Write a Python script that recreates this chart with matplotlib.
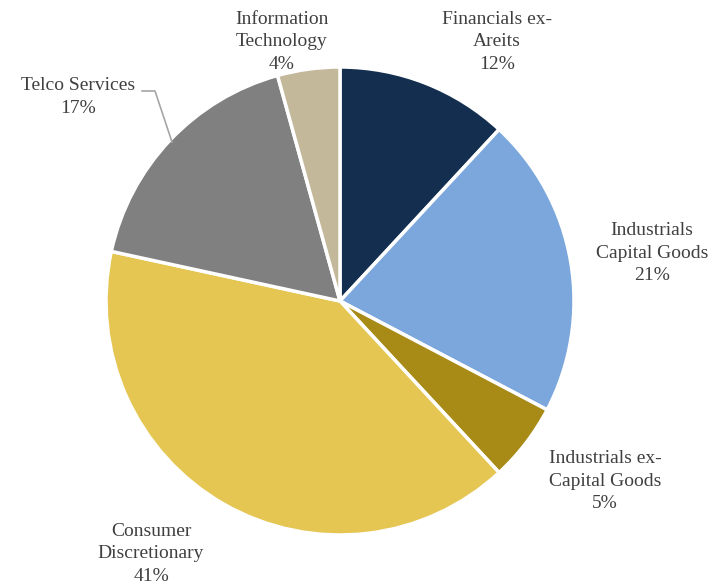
import matplotlib.pyplot as plt

# sectors, clockwise from 12 o'clock
sectors = ['Financials ex-\nAreits', 'Industrials\nCapital Goods', 'Industrials ex-\nCapital Goods',
           'Consumer\nDiscretionary', 'Telco Services', 'Information\nTechnology']
weights = [11.9, 20.8, 5.4, 40.3, 17.3, 4.3]   # slice sizes as drawn
shown_pct = [12, 21, 5, 41, 17, 4]            # rounded figures printed on the chart
colors = ['#142e4f', '#7ba7dc', '#a88a17', '#e5c653', '#808080', '#c4b89b']

# label centres in pixels (x, y from top)
label_pos = [(497, 42), (652, 253), (605, 481), (151, 554), (78, 97), (282, 42)]

W, H = 726, 587
plt.rcParams['font.family'] = ['Liberation Serif', 'DejaVu Serif']

fig = plt.figure(figsize=(W / 100, H / 100), dpi=100)
ax = fig.add_axes([0, 0, 1, 1])

cx, cy, r = 340, 301, 234
ax.pie(weights, colors=colors, startangle=90, counterclock=False,
       center=(cx, H - cy), radius=r, frame=True,
       wedgeprops=dict(edgecolor='white', linewidth=2.5))
ax.set_xlim(0, W)
ax.set_ylim(0, H)
ax.set_aspect('equal')
ax.axis('off')

for name, p, (px, py) in zip(sectors, shown_pct, label_pos):
    ax.text(px, H - py, f'{name}\n{p}%', ha='center', va='center',
            fontsize=14, color='#404040', linespacing=1.4)

# leader line for Telco Services
ax.plot([142, 155, 172], [H - 91, H - 91, H - 142], color='#a6a6a6', lw=1.2)

fig.savefig('out.png', dpi=100)
